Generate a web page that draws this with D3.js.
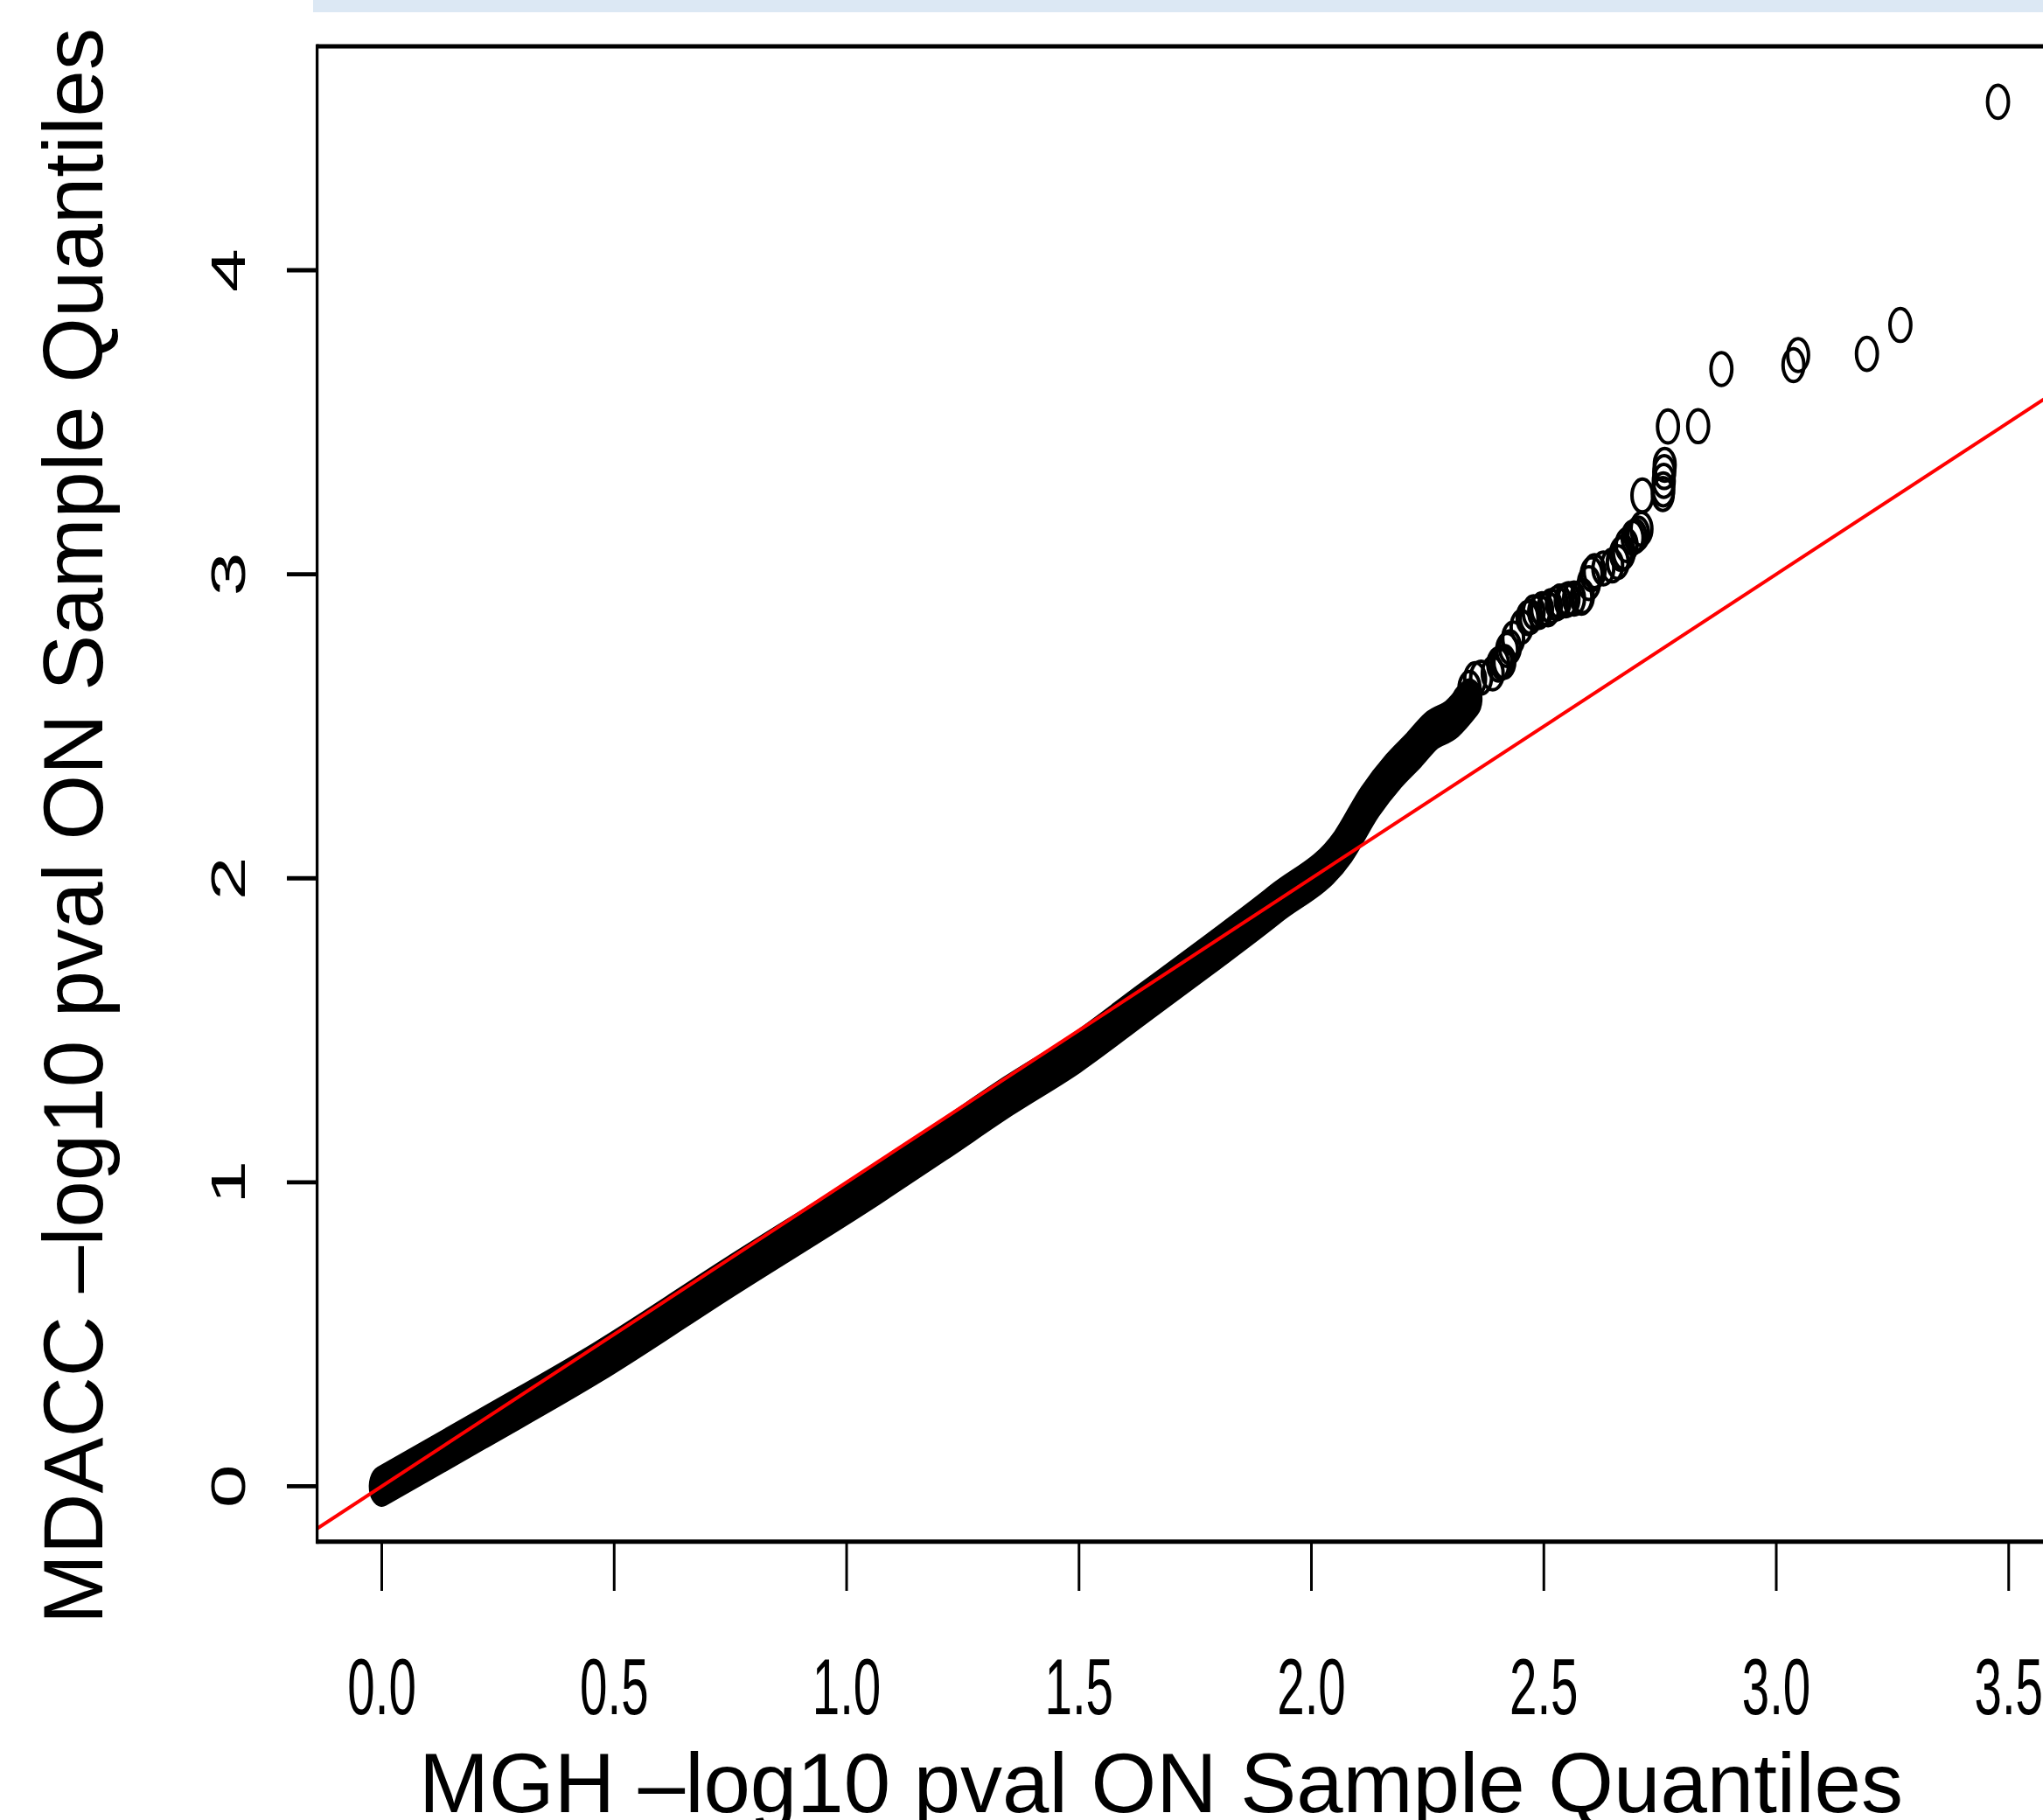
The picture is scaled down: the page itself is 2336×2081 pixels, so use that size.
<!DOCTYPE html>
<html>
<head>
<meta charset="utf-8">
<script src="https://cdn.jsdelivr.net/npm/d3@7/dist/d3.min.js"></script>
<style>
  html, body { margin: 0; padding: 0; background: #ffffff; overflow: hidden; }
  svg { display: block; }
</style>
</head>
<body>
<svg id="chart" width="2336" height="2081"></svg>
<script>
// ---- data -------------------------------------------------------------
const xTickValues = [0, 0.5, 1, 1.5, 2, 2.5, 3, 3.5];
const xTickLabels = ["0.0", "0.5", "1.0", "1.5", "2.0", "2.5", "3.0", "3.5"];
const yTickValues = [0, 1, 2, 3, 4];
const yTickLabels = ["0", "1", "2", "3", "4"];

// Quantile pairs in the crowded part of the plot, where thousands of
// circles overlap into one solid run.
const denseX = [0.000, 0.214, 0.464, 0.750, 1.060, 1.204, 1.348, 1.492, 1.636, 1.780,
                1.924, 2.068, 2.126, 2.177, 2.221, 2.258, 2.302, 2.340];
const denseY = [0.000, 0.187, 0.408, 0.690, 0.989, 1.135, 1.284, 1.423, 1.586, 1.749,
                1.917, 2.104, 2.252, 2.353, 2.423, 2.485, 2.524, 2.590];

// Upper-tail quantile pairs, where single circles can be told apart.
const tailX = [2.327, 2.340, 2.352, 2.365, 2.390, 2.402, 2.409, 2.415, 2.421, 2.427, 2.434,
               2.452, 2.465, 2.471, 2.478, 2.490, 2.496, 2.509, 2.515, 2.528, 2.534, 2.547,
               2.553, 2.565, 2.581, 2.584, 2.597, 2.603, 2.609, 2.628, 2.647, 2.659, 2.666,
               2.672, 2.678, 2.691, 2.697, 2.703, 2.710, 2.712, 2.756, 2.757, 2.758, 2.759,
               2.760, 2.767, 2.832, 2.882, 3.037, 3.047, 3.195, 3.267, 3.477];
const tailY = [2.578, 2.626, 2.655, 2.660, 2.674, 2.703, 2.710, 2.712, 2.751, 2.760, 2.789,
               2.827, 2.856, 2.860, 2.875, 2.876, 2.885, 2.885, 2.895, 2.904, 2.910, 2.914,
               2.918, 2.920, 2.923, 2.928, 2.971, 3.000, 3.010, 3.019, 3.029, 3.040, 3.067,
               3.072, 3.096, 3.120, 3.125, 3.134, 3.149, 3.259, 3.264, 3.279, 3.307, 3.336,
               3.360, 3.486, 3.487, 3.675, 3.688, 3.721, 3.725, 3.820, 4.554];

// reference line y = a + b x
const refIntercept = 0;
const refSlope = 1;

const xTitle = "MGH \u2013log10 pval ON Sample Quantiles";
const yTitle = "MDACC \u2013log10 pval ON Sample Quantiles";

// ---- layout -----------------------------------------------------------
const svg = d3.select("#chart");
const FONT = "'Liberation Sans', Arial, Helvetica, sans-serif";

const box = { left: 362.6, right: 2359, top: 53, bottom: 1762.8 };
const x = d3.scaleLinear().domain([-0.1391, 3.6171]).range([box.left, box.right]);
const y = d3.scaleLinear().domain([-0.1822, 4.7364]).range([box.bottom, box.top]);

// the graphics are stretched vertically; circles become ellipses
const stretch = 1.58;
const rx = 11.9;               // ellipse radius (stroke centre), horizontal
const ry = rx * stretch;       // vertical
const ringStroke = 4;

svg.append("rect").attr("width", 2336).attr("height", 2081).attr("fill", "#ffffff");

// pale banner along the top
svg.append("rect")
  .attr("x", 358).attr("y", 0).attr("width", 2336 - 358).attr("height", 14)
  .attr("fill", "#dce8f4");

svg.append("defs").append("clipPath").attr("id", "plotClip")
  .append("rect")
  .attr("x", box.left).attr("y", box.top)
  .attr("width", box.right - box.left).attr("height", box.bottom - box.top);

const plot = svg.append("g").attr("clip-path", "url(#plotClip)");

// solid run of overlapping circles: a path stroked with an elliptical pen
const yPen = d3.scaleLinear().domain(y.domain()).range(y.range().map(v => v / stretch));
const dense = denseX.map((d, i) => [d, denseY[i]]);
plot.append("g")
  .attr("transform", `scale(1,${stretch})`)
  .append("path")
  .datum(dense)
  .attr("d", d3.line().x(d => x(d[0])).y(d => yPen(d[1])).curve(d3.curveMonotoneX))
  .attr("fill", "none")
  .attr("stroke", "#000")
  .attr("stroke-width", 2 * rx + ringStroke + 2)
  .attr("stroke-linecap", "round")
  .attr("stroke-linejoin", "round");

// single open circles in the tail
const tail = tailX.map((d, i) => [d, tailY[i]]);
plot.selectAll("ellipse.pt")
  .data(tail)
  .join("ellipse")
  .attr("class", "pt")
  .attr("cx", d => x(d[0]))
  .attr("cy", d => y(d[1]))
  .attr("rx", rx)
  .attr("ry", ry)
  .attr("fill", "none")
  .attr("stroke", "#000")
  .attr("stroke-width", ringStroke);

// reference line
const xd = x.domain();
plot.append("line")
  .attr("x1", x(xd[0])).attr("y1", y(refIntercept + refSlope * xd[0]))
  .attr("x2", x(xd[1])).attr("y2", y(refIntercept + refSlope * xd[1]))
  .attr("stroke", "#ff0000")
  .attr("stroke-width", 4);

// frame
const frame = svg.append("g").attr("stroke", "#000").attr("fill", "none");
frame.append("line").attr("x1", box.left).attr("x2", box.right + 10).attr("y1", box.top).attr("y2", box.top).attr("stroke-width", 5);
frame.append("line").attr("x1", box.left).attr("x2", box.right + 10).attr("y1", box.bottom).attr("y2", box.bottom).attr("stroke-width", 5);
frame.append("line").attr("x1", box.left).attr("x2", box.left).attr("y1", box.top - 2.5).attr("y2", box.bottom + 2.5).attr("stroke-width", 3.3);

// x axis
const xAxis = svg.append("g");
xAxis.selectAll("line")
  .data(xTickValues)
  .join("line")
  .attr("x1", d => x(d)).attr("x2", d => x(d))
  .attr("y1", box.bottom).attr("y2", 1819)
  .attr("stroke", "#000").attr("stroke-width", 3);
xAxis.selectAll("text")
  .data(xTickValues)
  .join("text")
  .attr("transform", d => `translate(${x(d)},1960) scale(1,1.6)`)
  .attr("text-anchor", "middle")
  .attr("font-family", FONT)
  .attr("font-size", 56.5)
  .attr("fill", "#000")
  .text((d, i) => xTickLabels[i]);

// y axis
const yAxis = svg.append("g");
yAxis.selectAll("line")
  .data(yTickValues)
  .join("line")
  .attr("x1", 328).attr("x2", box.left)
  .attr("y1", d => y(d)).attr("y2", d => y(d))
  .attr("stroke", "#000").attr("stroke-width", 4.8);
yAxis.selectAll("text")
  .data(yTickValues)
  .join("text")
  .attr("transform", d => `translate(280,${y(d)}) rotate(-90) scale(1.6,1)`)
  .attr("text-anchor", "middle")
  .attr("font-family", FONT)
  .attr("font-size", 56)
  .attr("fill", "#000")
  .text((d, i) => yTickLabels[i]);

// titles
svg.append("text")
  .attr("x", 1327.5).attr("y", 2072)
  .attr("text-anchor", "middle")
  .attr("font-family", FONT)
  .attr("font-size", 96)
  .attr("fill", "#000")
  .text(xTitle);

svg.append("text")
  .attr("transform", "translate(117,944.5) rotate(-90)")
  .attr("text-anchor", "middle")
  .attr("font-family", FONT)
  .attr("font-size", 96)
  .attr("fill", "#000")
  .text(yTitle);
</script>
</body>
</html>
